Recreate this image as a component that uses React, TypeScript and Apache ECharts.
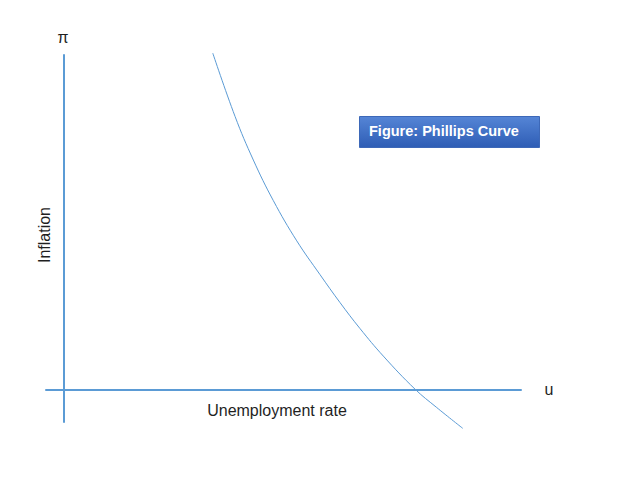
import React, { useEffect, useRef } from "react";
import * as echarts from "echarts";

// Phillips curve: unemployment (u) vs inflation (π), in arbitrary units
const uValues = [3.131, 3.6, 3.985, 4.406, 4.899, 5.389, 5.811, 6.232, 6.722, 7.389, 7.846, 8.394];
const piValues = [9.161, 7.436, 6.248, 5.142, 4.046, 3.125, 2.362, 1.654, 0.905, 0.005, -0.496, -1.063];

const xRange = [-0.38, 9.62];
const yRange = [-0.89, 9.11];

const xLabel = "u";
const yLabel = "π";
const xTitle = "Unemployment rate";
const yTitle = "Inflation";
const figureTitle = "Figure: Phillips Curve";

const BLUE = "#5B9BD5";
const TEXT = "#1f1f1f";
const FONT = "'Liberation Sans', Arial, sans-serif";

export default function App() {
  const ref = useRef<HTMLDivElement>(null);
  useEffect(() => {
    if (!ref.current) return;
    const chart = echarts.init(ref.current, undefined, { renderer: "svg" });
    const data = uValues.map((u, i) => [u, piValues[i]]);
    chart.setOption({
      animation: false,
      backgroundColor: "#ffffff",
      grid: { left: 46, right: 100, top: 55, bottom: 67, containLabel: false },
      xAxis: {
        type: "value",
        min: xRange[0],
        max: xRange[1],
        axisLine: { show: true, onZero: true, lineStyle: { color: BLUE, width: 2 } },
        axisTick: { show: false },
        axisLabel: { show: false },
        splitLine: { show: false },
      },
      yAxis: {
        type: "value",
        min: yRange[0],
        max: yRange[1],
        axisLine: { show: true, onZero: true, lineStyle: { color: BLUE, width: 2 } },
        axisTick: { show: false },
        axisLabel: { show: false },
        splitLine: { show: false },
      },
      series: [
        {
          type: "line",
          data,
          smooth: 0.4,
          showSymbol: false,
          clip: false,
          lineStyle: { color: BLUE, width: 1 },
        },
      ],
      graphic: [
        {
          type: "text",
          x: 63,
          y: 37,
          style: { text: yLabel, font: `16px ${FONT}`, fill: TEXT, textAlign: "center", textVerticalAlign: "middle" },
        },
        {
          type: "text",
          x: 549,
          y: 389,
          style: { text: xLabel, font: `16px ${FONT}`, fill: TEXT, textAlign: "center", textVerticalAlign: "middle" },
        },
        {
          type: "text",
          x: 277,
          y: 410,
          style: { text: xTitle, font: `16px ${FONT}`, fill: TEXT, textAlign: "center", textVerticalAlign: "middle" },
        },
        {
          type: "text",
          x: 44,
          y: 235,
          rotation: Math.PI / 2,
          style: { text: yTitle, font: `16px ${FONT}`, fill: TEXT, textAlign: "center", textVerticalAlign: "middle" },
        },
        {
          type: "rect",
          shape: { x: 359.5, y: 116.5, width: 180, height: 31 },
          style: {
            fill: new echarts.graphic.LinearGradient(0, 0, 0, 1, [
              { offset: 0, color: "#5585D6" },
              { offset: 1, color: "#2E5DB5" },
            ]),
            stroke: "#3D68B8",
            lineWidth: 1,
          },
        },
        {
          type: "text",
          x: 369,
          y: 131,
          style: {
            text: figureTitle,
            font: `bold 14.5px ${FONT}`,
            fill: "#ffffff",
            textAlign: "left",
            textVerticalAlign: "middle",
          },
        },
      ],
    });
    return () => chart.dispose();
  }, []);
  return (
    <div
      ref={ref}
      style={{ position: "absolute", left: 0, top: 0, width: 621, height: 489 }}
    />
  );
}
